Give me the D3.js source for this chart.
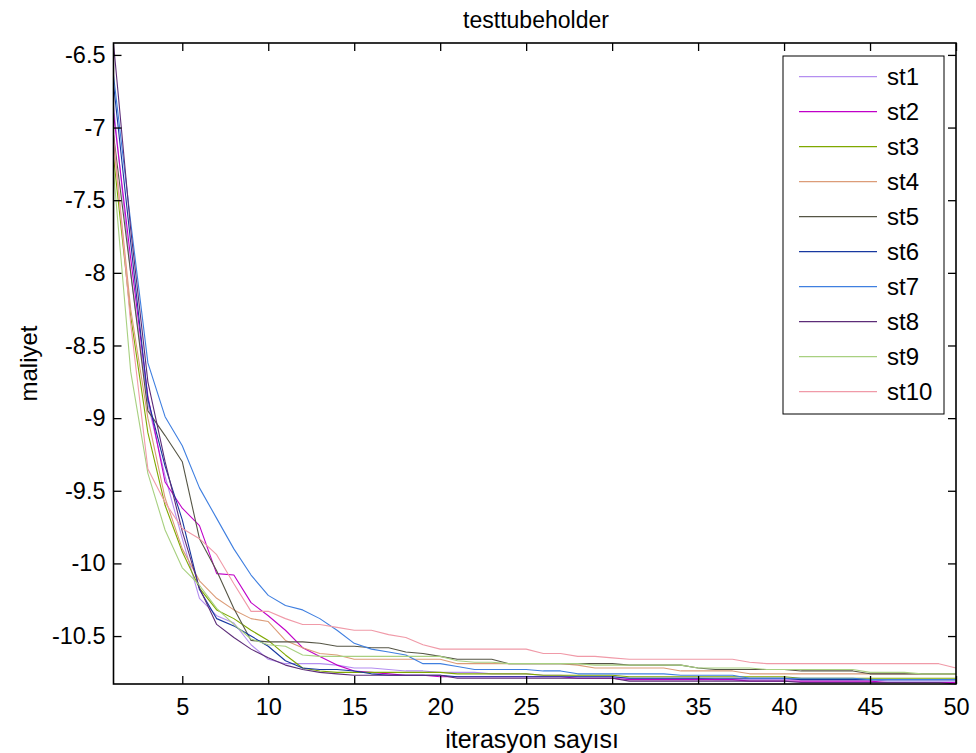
<!DOCTYPE html>
<html>
<head>
<meta charset="utf-8">
<script src="https://cdn.jsdelivr.net/npm/d3@7"></script>
<style>
  body { margin: 0; background: #fff; }
  text { font-family: "Liberation Sans", Arial, sans-serif; fill: #000; }
</style>
</head>
<body>
<svg id="chart" width="976" height="753"></svg>
<script>
// ---------------- data ----------------
const iterations = d3.range(1, 51);
const seriesNames = ["st1","st2","st3","st4","st5","st6","st7","st8","st9","st10"];
const seriesColors = ["#b48ef0","#c000c8","#7fa800","#dc9c78","#555545","#1838a0","#3f7fe0","#5c2c78","#a8d080","#f09aa8"];

const st1 = [-6.85,-8.0,-8.9,-9.4,-9.83,-10.24,-10.36,-10.41,-10.56,-10.66,
  -10.69,-10.69,-10.69,-10.70,-10.72,-10.72,-10.73,-10.74,-10.74,-10.75,
  -10.75,-10.75,-10.76,-10.76,-10.76,-10.77,-10.77,-10.78,-10.78,-10.78,
  -10.79,-10.79,-10.79,-10.79,-10.79,-10.80,-10.80,-10.80,-10.80,-10.80,
  -10.80,-10.80,-10.80,-10.80,-10.80,-10.81,-10.81,-10.81,-10.81,-10.81];
const st2 = [-6.9,-7.9,-8.85,-9.44,-9.62,-9.74,-10.07,-10.08,-10.27,-10.36,
  -10.46,-10.58,-10.64,-10.70,-10.74,-10.75,-10.76,-10.77,-10.77,-10.78,
  -10.78,-10.78,-10.78,-10.78,-10.78,-10.78,-10.78,-10.79,-10.79,-10.79,
  -10.80,-10.80,-10.80,-10.80,-10.80,-10.80,-10.80,-10.81,-10.81,-10.81,
  -10.81,-10.81,-10.81,-10.81,-10.81,-10.82,-10.82,-10.82,-10.82,-10.82];
const st3 = [-7.2,-8.3,-9.1,-9.6,-9.92,-10.17,-10.32,-10.38,-10.46,-10.53,
  -10.63,-10.72,-10.74,-10.75,-10.75,-10.75,-10.75,-10.75,-10.75,-10.75,
  -10.76,-10.76,-10.76,-10.76,-10.76,-10.77,-10.77,-10.77,-10.77,-10.77,
  -10.78,-10.78,-10.78,-10.78,-10.78,-10.78,-10.78,-10.78,-10.78,-10.78,
  -10.79,-10.79,-10.79,-10.79,-10.79,-10.79,-10.79,-10.79,-10.79,-10.79];
const st4 = [-7.1,-8.25,-9.0,-9.55,-9.9,-10.12,-10.24,-10.32,-10.38,-10.40,
  -10.53,-10.58,-10.62,-10.63,-10.66,-10.66,-10.66,-10.66,-10.66,-10.66,
  -10.69,-10.69,-10.69,-10.69,-10.69,-10.69,-10.69,-10.70,-10.72,-10.72,
  -10.72,-10.72,-10.72,-10.74,-10.74,-10.74,-10.74,-10.76,-10.76,-10.76,
  -10.76,-10.76,-10.76,-10.76,-10.76,-10.76,-10.76,-10.76,-10.76,-10.76];
const st5 = [-7.05,-8.0,-8.95,-9.12,-9.30,-9.83,-10.05,-10.31,-10.53,-10.54,
  -10.54,-10.54,-10.55,-10.57,-10.57,-10.58,-10.58,-10.61,-10.62,-10.64,
  -10.66,-10.66,-10.66,-10.69,-10.69,-10.69,-10.69,-10.69,-10.69,-10.69,
  -10.70,-10.70,-10.70,-10.70,-10.72,-10.73,-10.73,-10.73,-10.73,-10.73,
  -10.74,-10.74,-10.74,-10.74,-10.76,-10.76,-10.76,-10.76,-10.76,-10.76];
const st6 = [-6.7,-7.79,-8.87,-9.33,-9.70,-10.18,-10.38,-10.43,-10.50,-10.57,
  -10.67,-10.72,-10.73,-10.73,-10.74,-10.76,-10.77,-10.77,-10.77,-10.77,
  -10.78,-10.78,-10.78,-10.78,-10.78,-10.78,-10.78,-10.78,-10.78,-10.78,
  -10.79,-10.79,-10.79,-10.79,-10.79,-10.79,-10.79,-10.79,-10.79,-10.79,
  -10.80,-10.80,-10.80,-10.80,-10.80,-10.80,-10.80,-10.80,-10.80,-10.80];
const st7 = [-6.64,-7.65,-8.62,-8.99,-9.19,-9.48,-9.69,-9.90,-10.08,-10.22,
  -10.29,-10.32,-10.38,-10.46,-10.55,-10.59,-10.61,-10.63,-10.69,-10.69,
  -10.71,-10.73,-10.73,-10.73,-10.73,-10.74,-10.74,-10.76,-10.76,-10.76,
  -10.76,-10.76,-10.76,-10.77,-10.77,-10.77,-10.77,-10.79,-10.79,-10.79,
  -10.79,-10.79,-10.79,-10.79,-10.80,-10.80,-10.80,-10.80,-10.80,-10.80];
const st8 = [-6.42,-7.7,-8.75,-9.3,-9.78,-10.17,-10.42,-10.51,-10.59,-10.65,
  -10.70,-10.73,-10.75,-10.76,-10.77,-10.77,-10.77,-10.77,-10.77,-10.77,
  -10.79,-10.79,-10.79,-10.79,-10.79,-10.79,-10.79,-10.79,-10.79,-10.79,
  -10.81,-10.81,-10.81,-10.81,-10.81,-10.81,-10.81,-10.81,-10.81,-10.81,
  -10.82,-10.82,-10.82,-10.82,-10.82,-10.82,-10.82,-10.82,-10.82,-10.83];
const st9 = [-7.3,-8.68,-9.38,-9.77,-10.03,-10.15,-10.31,-10.42,-10.52,-10.56,
  -10.57,-10.63,-10.64,-10.64,-10.64,-10.64,-10.64,-10.64,-10.64,-10.64,
  -10.67,-10.68,-10.68,-10.69,-10.69,-10.69,-10.69,-10.69,-10.70,-10.70,
  -10.70,-10.70,-10.70,-10.70,-10.72,-10.72,-10.72,-10.72,-10.73,-10.73,
  -10.73,-10.73,-10.73,-10.73,-10.75,-10.75,-10.75,-10.76,-10.76,-10.76];
const st10 = [-7.05,-8.35,-9.35,-9.58,-9.76,-9.83,-9.94,-10.14,-10.33,-10.33,
  -10.38,-10.42,-10.42,-10.44,-10.46,-10.46,-10.49,-10.51,-10.56,-10.59,
  -10.59,-10.59,-10.59,-10.59,-10.59,-10.62,-10.62,-10.64,-10.64,-10.65,
  -10.66,-10.66,-10.66,-10.66,-10.66,-10.66,-10.66,-10.68,-10.69,-10.69,
  -10.69,-10.69,-10.69,-10.69,-10.69,-10.69,-10.69,-10.69,-10.69,-10.72];
const seriesValues = [st1, st2, st3, st4, st5, st6, st7, st8, st9, st10];

const xTickValues = [5,10,15,20,25,30,35,40,45,50];
const xTickLabels = ["5","10","15","20","25","30","35","40","45","50"];
const yTickValues = [-6.5,-7,-7.5,-8,-8.5,-9,-9.5,-10,-10.5];
const yTickLabels = ["-6.5","-7","-7.5","-8","-8.5","-9","-9.5","-10","-10.5"];
const xDomain = [1, 50];
const yDomain = [-10.83, -6.418];

const titleText = "testtubeholder";
const xLabelText = "iterasyon sayısı";
const yLabelText = "maliyet";

// ---------------- layout ----------------
const L = 113.5, R = 956, T = 43, B = 684;
const svg = d3.select("#chart");
const x = d3.scaleLinear().domain(xDomain).range([L, R]);
const y = d3.scaleLinear().domain(yDomain).range([B, T]);

// lines
const line = d3.line().x((d, i) => x(iterations[i])).y(d => y(d));
const plot = svg.append("g");
seriesValues.forEach((vals, k) => {
  plot.append("path")
    .attr("d", line(vals))
    .attr("fill", "none")
    .attr("stroke", seriesColors[k])
    .attr("stroke-width", 1.1)
    .attr("stroke-linejoin", "round");
});

// axes (ticks inside)
const tk = 8;
const gx = svg.append("g").attr("transform", `translate(0,${B})`)
  .call(d3.axisBottom(x).tickValues(xTickValues).tickSize(-tk).tickPadding(14)
    .tickFormat((d, i) => xTickLabels[i]));
const gy = svg.append("g").attr("transform", `translate(${L},0)`)
  .call(d3.axisLeft(y).tickValues(yTickValues).tickSize(-tk).tickPadding(8)
    .tickFormat((d, i) => yTickLabels[i]));
const gt = svg.append("g").attr("transform", `translate(0,${T})`)
  .call(d3.axisTop(x).tickValues(xTickValues).tickSize(-tk).tickFormat(""));
const gr = svg.append("g").attr("transform", `translate(${R},0)`)
  .call(d3.axisRight(y).tickValues(yTickValues).tickSize(-tk).tickFormat(""));
[gx, gy, gt, gr].forEach(g => {
  g.select(".domain").remove();
  g.selectAll(".tick line").attr("stroke", "#000").attr("stroke-width", 1.3);
  g.selectAll(".tick text").attr("font-size", 23.5).attr("fill", "#000")
    .attr("font-family", "Liberation Sans, Arial, sans-serif");
});
gx.selectAll(".tick text").attr("dy", "0.71em");

// box
svg.append("rect").attr("x", L).attr("y", T).attr("width", R - L).attr("height", B - T)
  .attr("fill", "none").attr("stroke", "#000").attr("stroke-width", 1.6);

// title & labels
svg.append("text").attr("x", 536).attr("y", 28).attr("text-anchor", "middle")
  .attr("font-size", 23).text(titleText);
svg.append("text").attr("x", 532).attr("y", 748).attr("text-anchor", "middle")
  .attr("font-size", 25).text(xLabelText);
svg.append("text").attr("transform", `translate(37,${(T + B) / 2}) rotate(-90)`)
  .attr("text-anchor", "middle").attr("font-size", 24).text(yLabelText);

// legend
const lg = svg.append("g");
lg.append("rect").attr("x", 783).attr("y", 56).attr("width", 161).attr("height", 358)
  .attr("fill", "#fff").attr("stroke", "#000").attr("stroke-width", 1);
seriesNames.forEach((name, k) => {
  const yy = 76.7 + k * 35;
  lg.append("line").attr("x1", 799).attr("x2", 877).attr("y1", yy).attr("y2", yy)
    .attr("stroke", seriesColors[k]).attr("stroke-width", 1.2);
  lg.append("text").attr("x", 887).attr("y", yy).attr("dy", "0.36em")
    .attr("font-size", 24).text(name);
});
</script>
</body>
</html>
